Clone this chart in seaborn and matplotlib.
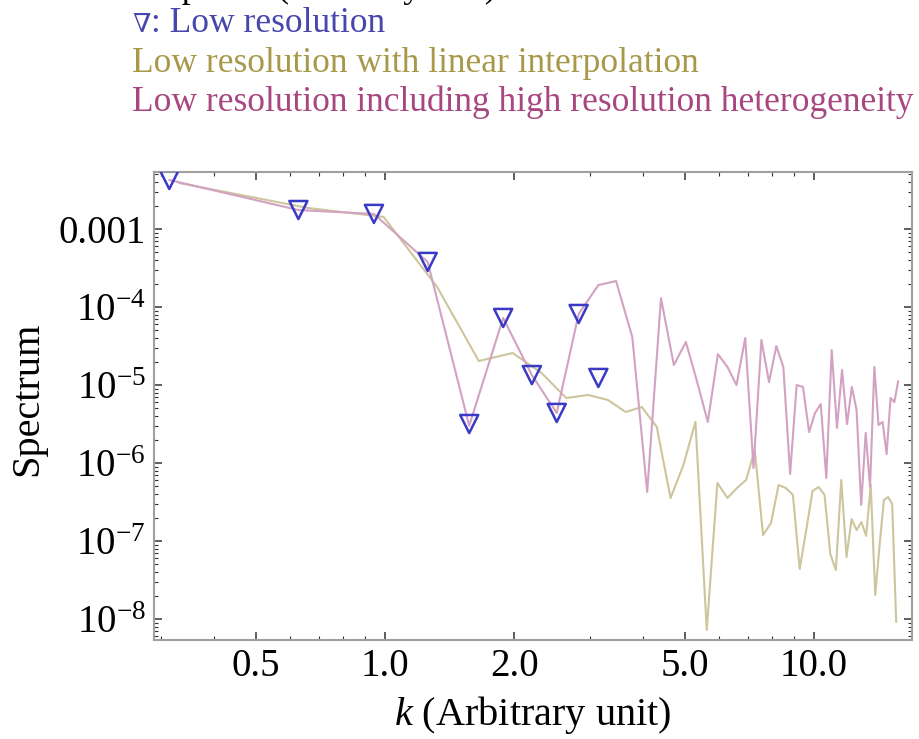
import matplotlib
matplotlib.use("Agg")
import matplotlib.pyplot as plt
from matplotlib.ticker import FixedLocator, LogLocator, NullFormatter
import seaborn as sns
import pandas as pd

# Low resolution spectrum (triangles)
k_low = [0.314, 0.628, 0.942, 1.257, 1.571, 1.885, 2.199, 2.513, 2.827, 3.142]
s_low = [4.25e-3, 1.75e-3, 1.56e-3, 3.78e-4, 3.16e-6, 7.23e-5, 1.34e-5, 4.38e-6, 8.13e-5, 1.23e-5]

# Low resolution with linear interpolation
k_interp = [0.331, 0.661, 0.992, 1.323, 1.654, 1.984, 2.315, 2.646, 2.976, 3.307,
            3.638, 3.968, 4.299, 4.630, 4.961, 5.291, 5.622, 5.953, 6.283, 6.614,
            6.945, 7.275, 7.606, 7.937, 8.268, 8.598, 8.929, 9.260, 9.590, 9.921,
            10.252, 10.582, 10.913, 11.244, 11.575, 11.905, 12.236, 12.567, 12.897, 13.228,
            13.559, 13.889, 14.220, 14.551, 14.882, 15.212, 15.543]
s_interp = [3.89e-3, 1.86e-3, 1.43e-3, 1.80e-4, 2.03e-5, 2.57e-5, 1.43e-5, 6.81e-6, 7.45e-6, 6.43e-6,
            4.51e-6, 5.22e-6, 2.90e-6, 3.56e-7, 9.42e-7, 3.36e-6, 7.23e-9, 5.55e-7, 3.56e-7, 4.78e-7,
            6.05e-7, 1.47e-6, 1.19e-7, 1.70e-7, 5.22e-7, 4.78e-7, 3.89e-7, 4.38e-8, 1.38e-7, 4.38e-7,
            4.92e-7, 3.89e-7, 6.81e-8, 4.25e-8, 6.05e-7, 6.24e-8, 1.91e-7, 1.38e-7, 1.75e-7, 1.16e-7,
            5.22e-7, 2.03e-8, 8.89e-8, 3.36e-7, 3.66e-7, 2.98e-7, 9.16e-9]

# Low resolution including high resolution heterogeneity
k_hetero = [0.314, 0.628, 0.942, 1.257, 1.571, 1.885, 2.199, 2.513, 2.827, 3.142,
            3.456, 3.770, 4.084, 4.398, 4.712, 5.027, 5.341, 5.655, 5.969, 6.283,
            6.597, 6.912, 7.226, 7.540, 7.854, 8.168, 8.482, 8.796, 9.111, 9.425,
            9.739, 10.053, 10.367, 10.681, 10.996, 11.310, 11.624, 11.938, 12.252, 12.566,
            12.881, 13.195, 13.509, 13.823, 14.137, 14.451, 14.765, 15.080, 15.394, 15.708]
s_hetero = [4.25e-3, 1.75e-3, 1.56e-3, 3.78e-4, 3.0e-6, 7.23e-5, 1.34e-5, 4.38e-6, 8.13e-5, 1.91e-4,
            2.15e-4, 4.12e-5, 4.25e-7, 1.30e-4, 1.80e-5, 3.56e-5, 1.09e-5, 3.36e-6, 2.49e-5, 1.70e-5,
            1.0e-5, 4.01e-5, 8.63e-7, 3.78e-5, 1.09e-5, 3.16e-5, 1.70e-5, 7.23e-7, 1.0e-5, 9.42e-6,
            2.49e-6, 4.38e-6, 5.70e-6, 6.43e-7, 2.81e-5, 2.81e-6, 1.56e-5, 3.16e-6, 9.42e-6, 4.78e-6,
            2.90e-7, 2.43e-6, 4.92e-7, 1.70e-5, 3.07e-6, 3.36e-6, 1.30e-6, 6.81e-6, 6.05e-6, 1.12e-5]

x_ticks = [0.5, 1.0, 2.0, 5.0, 10.0]
x_tick_labels = ["0.5", "1.0", "2.0", "5.0", "10.0"]
x_minor = [0.3, 0.4, 0.6, 0.7, 0.8, 0.9, 3, 4, 6, 7, 8, 9]
y_ticks = [1e-3, 1e-4, 1e-5, 1e-6, 1e-7, 1e-8]
y_tick_labels = ["0.001", r"$10^{-4}$", r"$10^{-5}$", r"$10^{-6}$", r"$10^{-7}$", r"$10^{-8}$"]

legend_texts = [": Low resolution",
                "Low resolution with linear interpolation",
                "Low resolution including high resolution heterogeneity"]
legend_colors = ["#4646ad", "#a8994a", "#a8467f"]

blue = "#3a3ac4"
olive_line = "#cdc59c"
pink_line = "#d3a2c2"

sns.set_theme(style="ticks")
plt.rcParams["font.family"] = ["Liberation Serif", "DejaVu Serif"]
plt.rcParams["mathtext.fontset"] = "custom"
plt.rcParams["mathtext.rm"] = "Liberation Serif"
plt.rcParams["mathtext.it"] = "Liberation Serif:italic"
plt.rcParams["text.color"] = "black"
plt.rcParams["axes.labelcolor"] = "black"
plt.rcParams["xtick.labelcolor"] = "black"
plt.rcParams["ytick.labelcolor"] = "black"

fig = plt.figure(figsize=(9.19, 7.39), dpi=100)
ax = fig.add_axes([154 / 919, 1 - 640 / 739, 758 / 919, 468 / 739])

df_interp = pd.DataFrame({"k": k_interp, "s": s_interp})
df_hetero = pd.DataFrame({"k": k_hetero, "s": s_hetero})
df_low = pd.DataFrame({"k": k_low, "s": s_low})

sns.lineplot(data=df_interp, x="k", y="s", sort=False, color=olive_line, lw=1.5, ax=ax)
sns.lineplot(data=df_hetero, x="k", y="s", sort=False, color=pink_line, lw=1.5, ax=ax)
sns.scatterplot(data=df_low, x="k", y="s", marker="v", s=170, color=blue,
                facecolor="none", edgecolor=blue, linewidth=1.8, ax=ax, zorder=5)

ax.set_xscale("log")
ax.set_yscale("log")
ax.set_xlim(0.2893, 16.92)
ax.set_ylim(5.38e-9, 5.38e-3)

ax.xaxis.set_major_locator(FixedLocator(x_ticks))
ax.set_xticklabels(x_tick_labels)
ax.xaxis.set_minor_locator(FixedLocator(x_minor))
ax.xaxis.set_minor_formatter(NullFormatter())
ax.yaxis.set_major_locator(FixedLocator(y_ticks))
ax.set_yticklabels(y_tick_labels)
ax.yaxis.set_minor_locator(LogLocator(base=10, subs=range(2, 10), numticks=20))
ax.yaxis.set_minor_formatter(NullFormatter())

ax.tick_params(which="both", direction="in", top=True, right=True, color="#333333")
ax.tick_params(which="major", length=6, width=1.1, labelsize=28, pad=6)
ax.tick_params(which="minor", length=3, width=0.8)
for spine in ax.spines.values():
    spine.set_color("#a0a0a0")
    spine.set_linewidth(1.5)

ax.set_xlabel(r"$k$ (Arbitrary unit)", fontsize=29)
ax.set_ylabel("Spectrum", fontsize=29)
ax.xaxis.set_label_coords(0.5, -0.115)
ax.yaxis.set_label_coords(-0.142, 0.515)

# legend block drawn as coloured text lines above the frame
fig.text(497 / 919, 1 + 3 / 739, "Spectra (Arbitrary unit)", ha="right", va="baseline",
         fontsize=25.5, color="black")

renderer = fig.canvas.get_renderer()
nabla = fig.text(132 / 919, 1 - 31 / 739, "\u2207", ha="left", va="baseline",
                 fontsize=19, color=legend_colors[0])
nabla_w = nabla.get_window_extent(renderer=renderer).width
for i, (txt, col) in enumerate(zip(legend_texts, legend_colors)):
    x0 = 132 + (nabla_w + 1 if i == 0 else 0)
    fig.text(x0 / 919, 1 - (32 + 39.5 * i) / 739, txt, ha="left", va="baseline",
             fontsize=25.5, color=col)

fig.savefig("out.png", dpi=100)
